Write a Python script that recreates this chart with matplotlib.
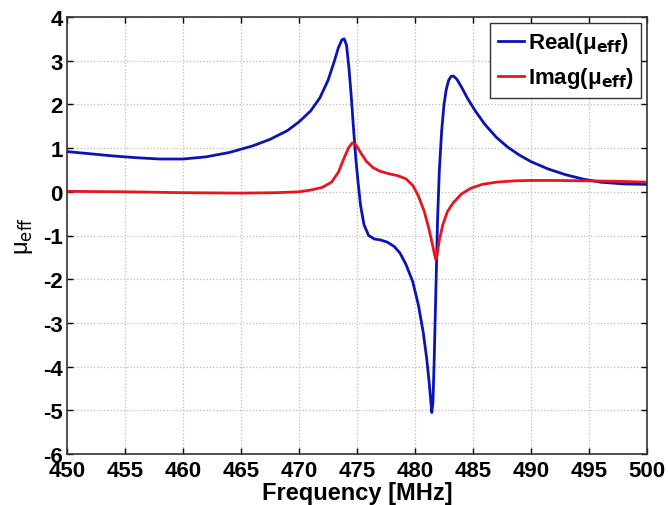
import matplotlib
matplotlib.use("Agg")
import matplotlib.pyplot as plt

# Real part of mu_eff
freq_real = [450, 452, 454, 456, 458, 460, 462, 464, 466, 467.5, 469, 470, 471, 471.8, 472.5,
             473.0, 473.4, 473.7, 473.9, 474.1, 474.3, 474.5, 474.7, 474.9, 475.1, 475.3,
             475.6, 476.0, 476.5, 477.0, 477.6, 478.2, 478.7, 479.2, 479.8, 480.3, 480.7,
             481.0, 481.2, 481.35, 481.45, 481.55, 481.65, 481.75, 481.85, 481.95, 482.1,
             482.3, 482.5, 482.7, 482.9, 483.1, 483.3, 483.6, 484.0, 484.5, 485.2, 486.0,
             487.0, 488.0, 489.0, 490.0, 491.5, 493.0, 494.5, 496.0, 498.0, 500]
mu_real = [0.92, 0.87, 0.82, 0.78, 0.75, 0.75, 0.80, 0.90, 1.05, 1.20, 1.40, 1.60, 1.85, 2.15, 2.55,
           2.95, 3.30, 3.48, 3.50, 3.35, 2.85, 2.20, 1.45, 0.75, 0.20, -0.30,
           -0.75, -1.00, -1.08, -1.10, -1.15, -1.25, -1.40, -1.65, -2.05, -2.60, -3.20,
           -3.80, -4.30, -4.75, -5.05, -4.80, -3.90, -2.80, -1.70, -0.60, 0.50,
           1.40, 2.00, 2.35, 2.55, 2.64, 2.65, 2.58, 2.40, 2.15, 1.85, 1.55,
           1.25, 1.02, 0.84, 0.69, 0.52, 0.39, 0.29, 0.22, 0.18, 0.17]

# Imaginary part of mu_eff
freq_imag = [450, 455, 460, 465, 468, 470, 471, 472, 472.8, 473.4, 473.9, 474.3, 474.6, 474.9,
             475.3, 475.8, 476.4, 477.0, 477.8, 478.5, 479.2, 479.8, 480.3, 480.8, 481.2,
             481.5, 481.7, 481.8, 481.9, 482.1, 482.4, 482.8, 483.3, 484.0, 484.8, 485.8,
             487.0, 488.5, 490.0, 492.0, 495.0, 497.5, 500]
mu_imag = [0.01, 0.0, -0.02, -0.03, -0.02, 0.0, 0.04, 0.10, 0.22, 0.45, 0.78, 1.02, 1.12, 1.08,
           0.90, 0.70, 0.55, 0.47, 0.41, 0.37, 0.30, 0.15, -0.10, -0.45, -0.85,
           -1.20, -1.45, -1.55, -1.45, -1.10, -0.75, -0.45, -0.25, -0.05, 0.08, 0.17,
           0.22, 0.25, 0.26, 0.26, 0.25, 0.24, 0.22]

x_ticks = list(range(450, 501, 5))
y_ticks = list(range(-6, 5, 1))

plt.rcParams['font.family'] = ['Liberation Sans', 'DejaVu Sans']
fig = plt.figure(figsize=(6.68, 5.06), dpi=100)
ax = fig.add_axes([67/668, 1 - 455/506, (647-67)/668, (455-18)/506])

ax.plot(freq_real, mu_real, color='#0a14b4', lw=2.0, label=r'Real(μ$_{\mathbf{eff}}$)')
ax.plot(freq_imag, mu_imag, color='#e8141e', lw=2.0, label=r'Imag(μ$_{\mathbf{eff}}$)')

ax.set_xlim(450, 500)
ax.set_ylim(-6, 4)
ax.set_xticks(x_ticks)
ax.set_yticks(y_ticks)
ax.set_xticklabels([str(t) for t in x_ticks], fontsize=16, fontweight='bold')
ax.set_yticklabels([str(t) for t in y_ticks], fontsize=16, fontweight='bold')
ax.tick_params(axis='x', direction='in', length=4, width=1, top=True, pad=4)
ax.tick_params(axis='y', direction='in', length=4, width=1, right=True, pad=3)
ax.grid(True, linestyle=':', color='#bbbbbb', linewidth=0.9)
for s in ax.spines.values():
    s.set_linewidth(1.2)
    s.set_color('#333333')

ax.set_xlabel('Frequency [MHz]', fontsize=17, fontweight='bold', labelpad=0)
ax.set_ylabel(r'μ$_{\mathrm{eff}}$', fontsize=17, labelpad=6)

leg = ax.legend(loc='upper right', prop={'weight': 'bold', 'size': 16},
                handlelength=1.2, handletextpad=0.15, borderpad=0.35, labelspacing=0.45,
                fancybox=False, framealpha=1, borderaxespad=0.25)
leg.get_frame().set_edgecolor('#333333')
leg.get_frame().set_linewidth(1.0)

fig.savefig('out.png', dpi=100)
